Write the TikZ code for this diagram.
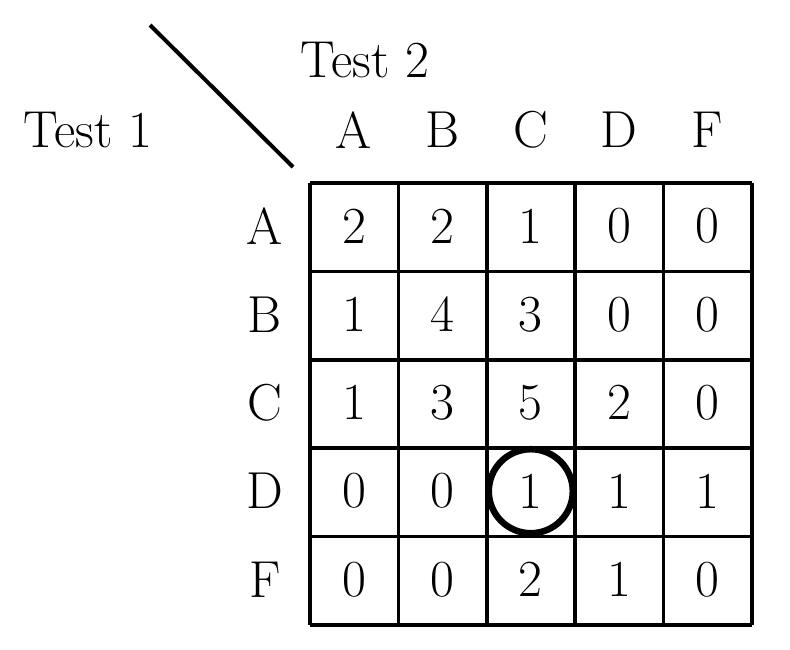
\documentclass[tikz,border=0pt]{standalone}
\usepackage{fontspec}
\begin{document}
\begin{tikzpicture}[x=1pt,y=-1pt,
  lab/.style={font=\fontsize{52}{58}\selectfont, inner sep=0pt, anchor=center},
  gridline/.style={line width=3.5pt}]
\useasboundingbox (0,0) rectangle (790,649);
\foreach \k in {0,...,5} {
  \draw[gridline] (310+88.4*\k,183) -- (310+88.4*\k,625);
  \draw[gridline] (310,183+88.4*\k) -- (752,183+88.4*\k);
}
\coordinate (d1) at (150,25);
\coordinate (d2) at (293,167);
\draw[line width=4pt] (d1) -- (d2);
\node[lab] (t2) at (365,60) {Test 2};
\node[lab] (t1) at (88,130) {Test 1};
\foreach \c [count=\i from 0] in {A,B,C,D,F} {
  \node[lab] (col\i) at (354+88.4*\i,130) {\c};
  \node[lab] (row\i) at (265,226+88.4*\i) {\c};
}
\foreach \r [count=\j from 0] in {{2,2,1,0,0},{1,4,3,0,0},{1,3,5,2,0},{0,0,1,1,1},{0,0,2,1,0}} {
  \foreach \v [count=\i from 0] in \r {
    \node[lab] (c\j\i) at (354+88.4*\i,226+88.4*\j) {\v};
  }
}
\draw[line width=6.5pt] (c32) circle (42);
\end{tikzpicture}
\end{document}
